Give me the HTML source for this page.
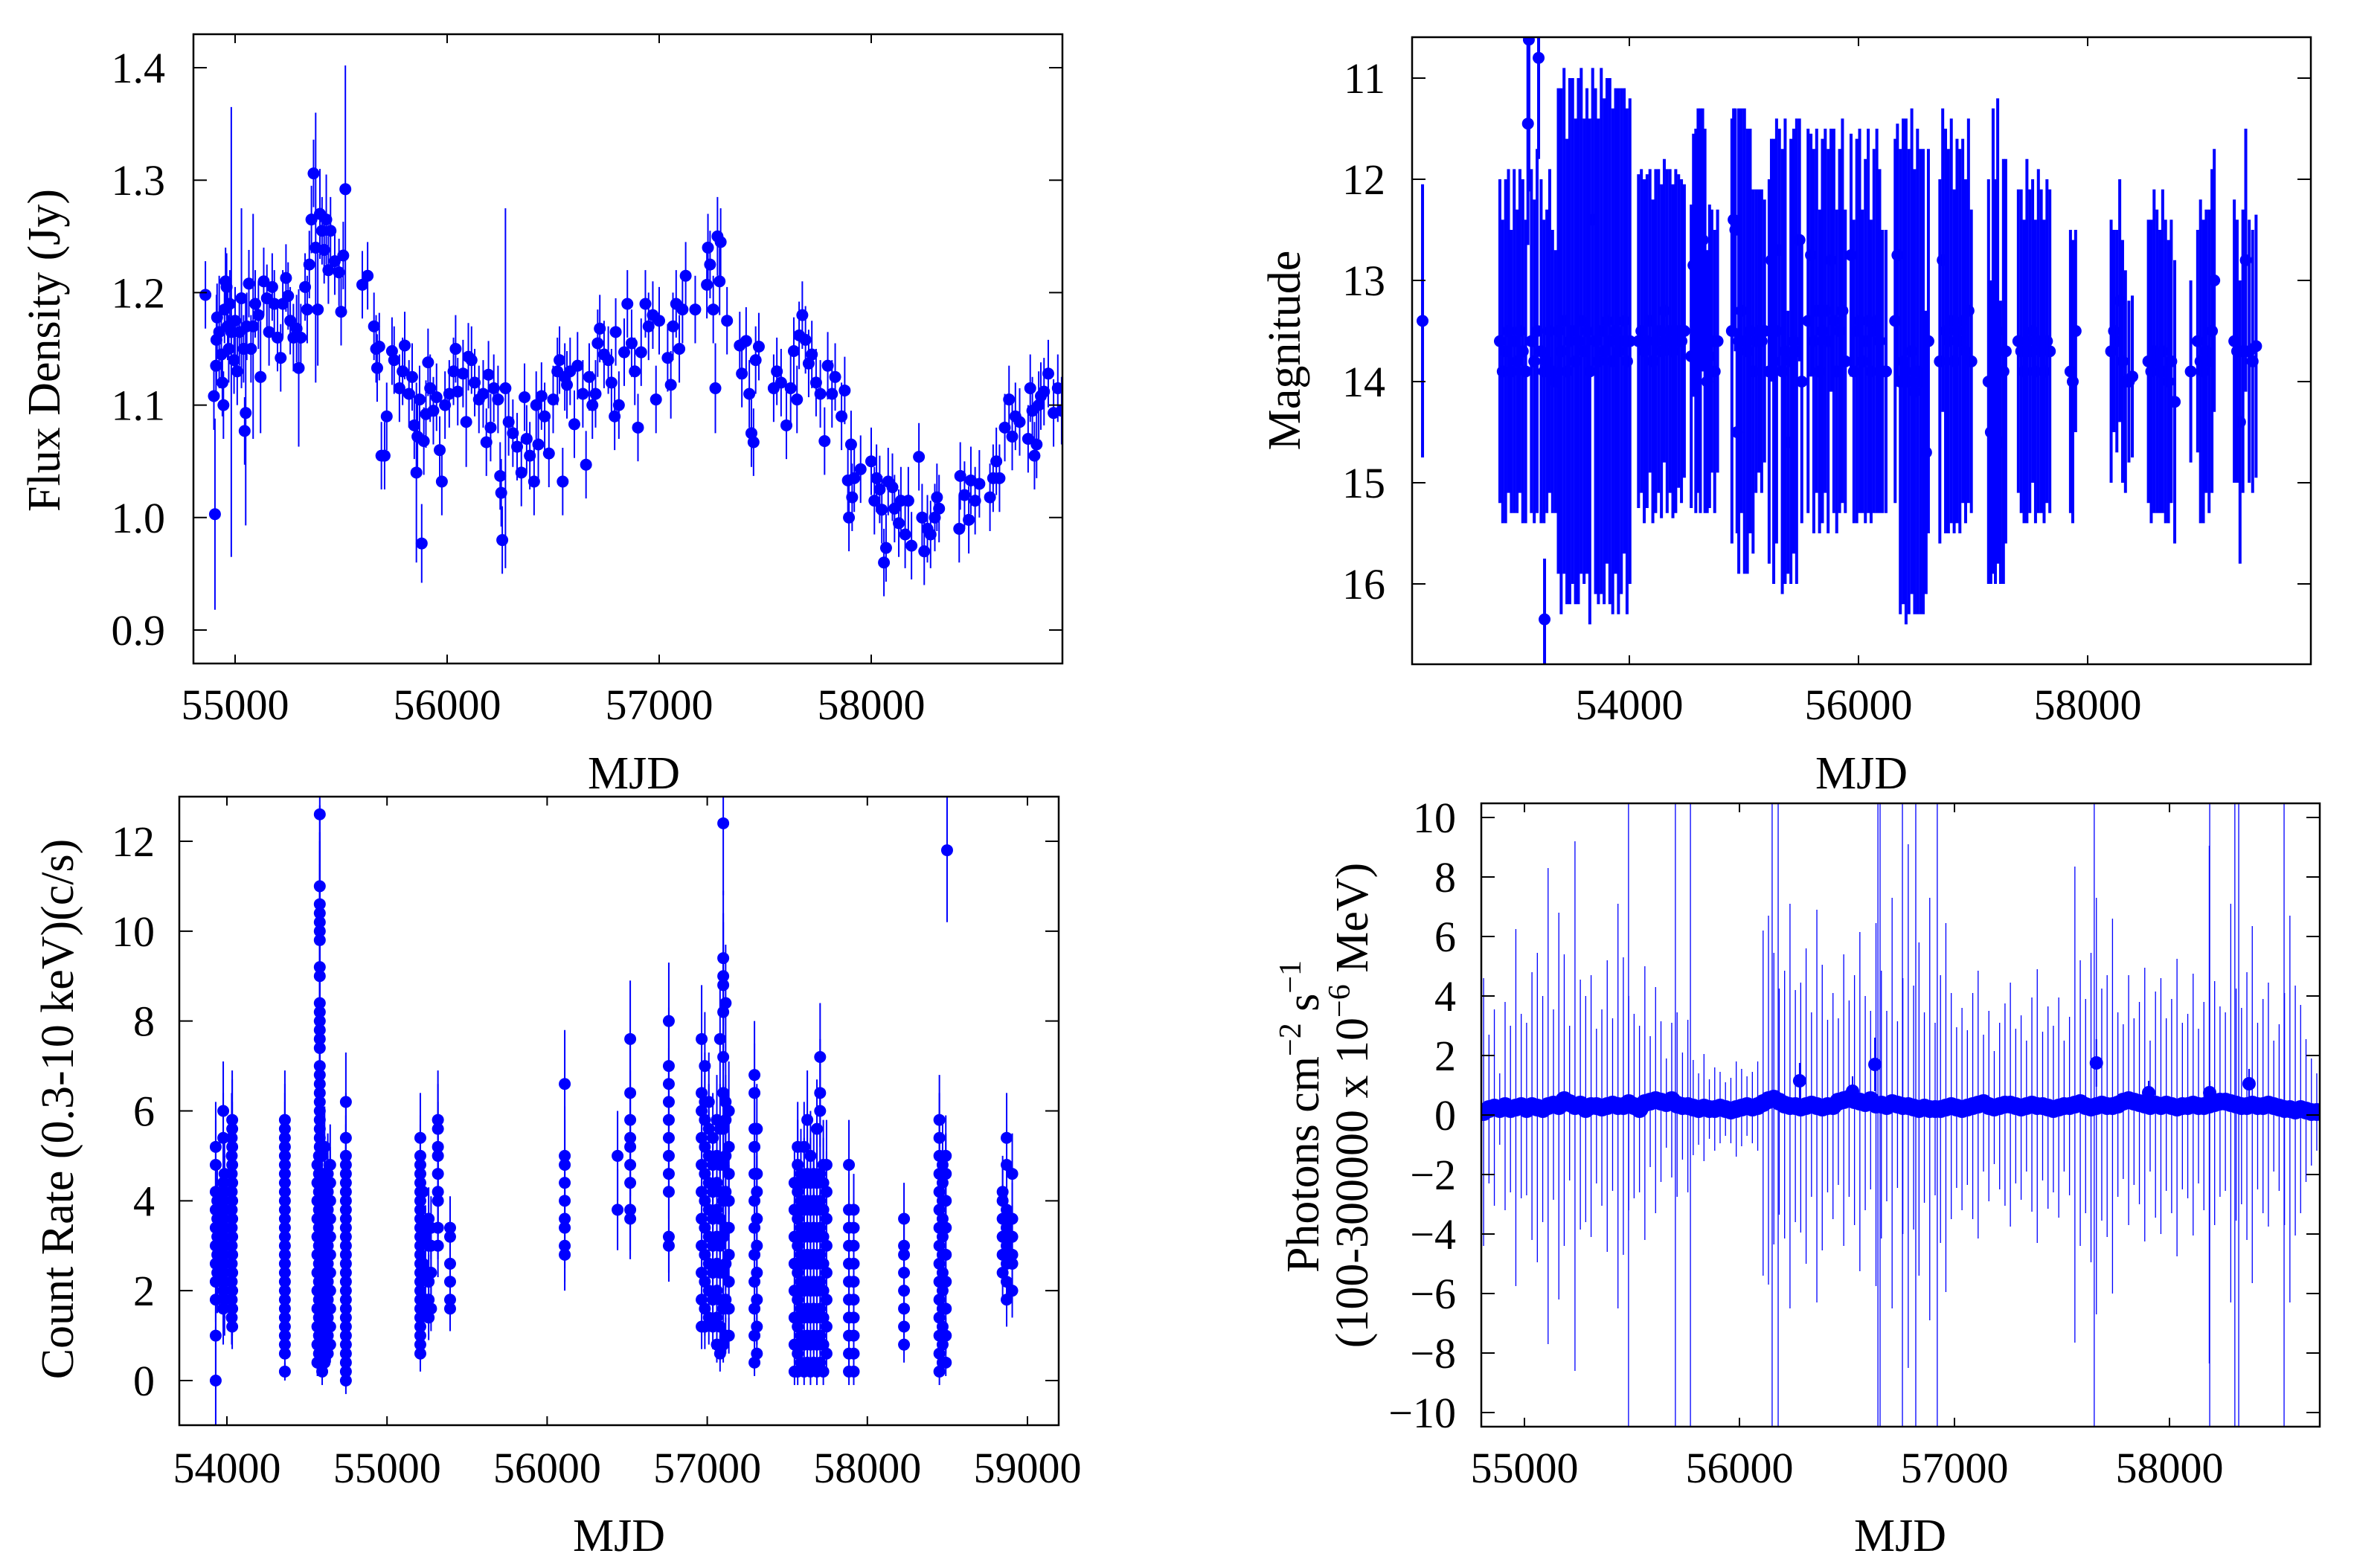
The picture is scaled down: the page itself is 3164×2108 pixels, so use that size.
<!DOCTYPE html>
<html><head><meta charset="utf-8"><style>
html,body{margin:0;padding:0;background:#fff;}
svg{display:block;font-family:"Liberation Serif",serif;}
</style></head><body>
<svg id="fig" width="3164" height="2108" viewBox="0 0 3164 2108" xmlns="http://www.w3.org/2000/svg">
<rect x="0" y="0" width="3164" height="2108" fill="#fff"/>
</svg>
<script>
// ---------- Panel 1: radio flux density [MJD, Jy, err] ----------
const radioData = [[54860,1.198,0.03],[54900,1.108,0.03],[54905,1.003,0.085],[54910,1.135,0.03],[54912,1.158,0.04],[54915,1.178,0.03],[54925,1.165,0.05],[54935,1.145,0.03],[54940,1.12,0.03],[54945,1.10,0.03],[54950,1.185,0.03],[54955,1.21,0.03],[54960,1.205,0.03],[54965,1.17,0.03],[54970,1.15,0.03],[54975,1.19,0.03],[54982,1.165,0.2],[54995,1.14,0.03],[55000,1.175,0.03],[55010,1.13,0.03],[55020,1.165,0.03],[55030,1.195,0.08],[55040,1.15,0.03],[55045,1.077,0.03],[55050,1.093,0.1],[55055,1.17,0.03],[55065,1.208,0.03],[55075,1.15,0.03],[55085,1.17,0.1],[55095,1.19,0.03],[55110,1.18,0.03],[55120,1.125,0.05],[55135,1.21,0.03],[55150,1.195,0.03],[55160,1.165,0.03],[55175,1.205,0.03],[55185,1.19,0.03],[55200,1.16,0.03],[55215,1.142,0.03],[55225,1.19,0.03],[55240,1.213,0.03],[55250,1.197,0.03],[55260,1.175,0.03],[55275,1.16,0.03],[55290,1.168,0.03],[55300,1.133,0.07],[55310,1.16,0.03],[55330,1.205,0.03],[55340,1.185,0.03],[55350,1.225,0.03],[55360,1.265,0.03],[55370,1.306,0.03],[55380,1.24,0.12],[55390,1.185,0.05],[55400,1.27,0.04],[55410,1.255,0.03],[55420,1.238,0.03],[55430,1.265,0.04],[55440,1.22,0.03],[55450,1.255,0.03],[55470,1.228,0.03],[55490,1.218,0.03],[55500,1.183,0.03],[55510,1.233,0.03],[55520,1.292,0.11],[55600,1.207,0.03],[55625,1.215,0.03],[55655,1.17,0.03],[55665,1.15,0.03],[55670,1.133,0.03],[55680,1.152,0.03],[55690,1.055,0.03],[55705,1.055,0.03],[55715,1.09,0.03],[55740,1.148,0.03],[55750,1.14,0.03],[55775,1.115,0.03],[55790,1.13,0.03],[55800,1.153,0.03],[55820,1.11,0.03],[55835,1.125,0.03],[55845,1.082,0.03],[55855,1.04,0.08],[55860,1.072,0.03],[55870,1.105,0.03],[55880,0.977,0.035],[55890,1.068,0.03],[55900,1.092,0.03],[55910,1.138,0.03],[55920,1.115,0.03],[55935,1.095,0.03],[55950,1.107,0.03],[55965,1.06,0.03],[55975,1.032,0.03],[55990,1.10,0.03],[56010,1.11,0.03],[56030,1.13,0.03],[56040,1.15,0.03],[56050,1.112,0.03],[56075,1.128,0.03],[56090,1.085,0.04],[56100,1.143,0.03],[56115,1.14,0.03],[56130,1.12,0.03],[56150,1.105,0.03],[56170,1.11,0.03],[56185,1.067,0.03],[56195,1.127,0.03],[56205,1.08,0.03],[56220,1.115,0.03],[56240,1.105,0.03],[56250,1.037,0.03],[56255,1.022,0.03],[56260,0.98,0.03],[56275,1.115,0.16],[56290,1.085,0.03],[56310,1.075,0.03],[56330,1.063,0.03],[56350,1.04,0.03],[56365,1.107,0.03],[56375,1.07,0.03],[56390,1.055,0.03],[56410,1.032,0.03],[56420,1.10,0.03],[56430,1.065,0.03],[56445,1.108,0.03],[56460,1.09,0.03],[56480,1.057,0.03],[56500,1.105,0.03],[56520,1.13,0.03],[56530,1.14,0.03],[56545,1.032,0.03],[56555,1.125,0.03],[56565,1.118,0.03],[56580,1.13,0.03],[56600,1.083,0.03],[56615,1.135,0.03],[56640,1.11,0.03],[56655,1.047,0.03],[56670,1.125,0.03],[56685,1.1,0.03],[56700,1.11,0.03],[56710,1.155,0.03],[56720,1.168,0.03],[56740,1.145,0.03],[56760,1.14,0.03],[56775,1.12,0.03],[56790,1.09,0.03],[56795,1.165,0.03],[56810,1.1,0.03],[56835,1.147,0.03],[56850,1.19,0.03],[56870,1.155,0.03],[56885,1.13,0.03],[56900,1.08,0.03],[56915,1.147,0.03],[56935,1.19,0.03],[56950,1.17,0.03],[56970,1.18,0.03],[56985,1.105,0.03],[57000,1.175,0.03],[57040,1.142,0.03],[57055,1.118,0.03],[57065,1.17,0.03],[57080,1.19,0.03],[57095,1.15,0.03],[57110,1.185,0.03],[57125,1.215,0.03],[57170,1.185,0.03],[57225,1.207,0.03],[57230,1.24,0.03],[57240,1.225,0.03],[57255,1.185,0.03],[57265,1.115,0.04],[57275,1.25,0.035],[57285,1.21,0.03],[57290,1.245,0.03],[57320,1.175,0.03],[57380,1.153,0.03],[57390,1.128,0.03],[57410,1.157,0.03],[57425,1.11,0.03],[57435,1.075,0.03],[57445,1.067,0.03],[57455,1.14,0.03],[57470,1.152,0.03],[57540,1.115,0.03],[57555,1.13,0.03],[57575,1.12,0.03],[57600,1.082,0.03],[57620,1.115,0.03],[57635,1.148,0.03],[57650,1.105,0.03],[57660,1.162,0.03],[57675,1.18,0.03],[57690,1.158,0.03],[57705,1.137,0.03],[57720,1.145,0.03],[57740,1.12,0.03],[57760,1.11,0.03],[57780,1.068,0.03],[57795,1.135,0.03],[57815,1.11,0.03],[57830,1.125,0.03],[57860,1.09,0.03],[57875,1.113,0.03],[57890,1.033,0.03],[57895,1.0,0.03],[57905,1.065,0.03],[57910,1.018,0.03],[57920,1.035,0.03],[57950,1.043,0.03],[58000,1.05,0.03],[58015,1.015,0.03],[58025,1.035,0.03],[58040,1.025,0.03],[58050,1.007,0.03],[58060,0.96,0.03],[58070,0.973,0.03],[58080,1.032,0.03],[58100,1.027,0.03],[58110,1.008,0.03],[58130,0.995,0.03],[58140,1.015,0.03],[58160,0.985,0.03],[58175,1.015,0.03],[58190,0.975,0.03],[58225,1.054,0.03],[58240,1.0,0.03],[58250,0.97,0.03],[58265,0.99,0.03],[58280,0.985,0.03],[58300,1.0,0.03],[58310,1.018,0.03],[58320,1.008,0.03],[58415,0.99,0.03],[58420,1.037,0.03],[58440,1.02,0.03],[58460,0.998,0.03],[58470,1.033,0.03],[58490,1.015,0.03],[58510,1.03,0.03],[58560,1.018,0.03],[58575,1.035,0.03],[58590,1.05,0.03],[58605,1.035,0.03],[58630,1.08,0.03],[58650,1.105,0.03],[58665,1.072,0.03],[58680,1.09,0.03],[58700,1.085,0.03],[58740,1.07,0.03],[58750,1.115,0.03],[58760,1.095,0.03],[58770,1.055,0.03],[58780,1.065,0.03],[58790,1.1,0.03],[58800,1.108,0.03],[58815,1.112,0.03],[58835,1.128,0.03],[58860,1.093,0.03],[58880,1.115,0.03],[58898,1.095,0.03]];
const radioYTicks = [0.9,1.0,1.1,1.2,1.3,1.4];
const radioYLabels = ["0.9","1.0","1.1","1.2","1.3","1.4"];
const radioXTicks = [55000,56000,57000,58000];

// ---------- Panel 2: optical magnitude [MJD, mag, err] ----------
const magData = [[52195,13.4,1.35],
[52870,13.6,1.6],[52895,13.9,1.5],[52920,13.7,1.7],[52945,13.5,1.6],[52970,13.9,1.4],[52995,13.6,1.7],[53020,13.8,1.5],[53045,13.5,1.6],[53070,13.7,1.7],[53095,13.9,1.5],[53115,11.45,1.2],[53123,10.62,1.5],[53145,13.6,1.7],[53170,13.8,1.6],[53195,13.5,1.8],[53208,10.8,1.0],[53230,13.7,1.7],[53255,13.9,1.5],[53260,16.35,0.6],[53280,13.8,1.5],[53305,13.5,1.6],[53330,13.9,1.4],[53355,14.0,1.3],
[53380,13.5,2.4],[53405,13.7,2.6],[53430,13.4,2.5],[53455,13.9,2.3],[53480,13.6,2.6],[53505,13.5,2.5],[53530,13.8,2.4],[53555,13.6,2.6],[53580,13.4,2.5],[53605,13.7,2.3],[53630,13.5,2.4],[53655,13.9,2.5],[53680,12.4,1.5],[53705,13.6,2.5],[53730,13.8,2.4],[53755,13.5,2.6],[53780,13.7,2.5],[53805,13.4,2.4],[53830,13.6,2.6],[53855,13.8,2.5],[53880,13.5,2.4],[53905,13.7,2.6],[53930,13.6,2.5],[53955,13.4,2.3],[53980,13.8,2.5],[54005,13.6,2.4],
[54080,13.6,1.65],[54105,13.5,1.6],[54130,13.7,1.7],[54155,13.6,1.65],[54180,13.4,1.5],[54205,13.8,1.6],[54230,13.6,1.7],[54255,13.5,1.6],[54280,13.7,1.65],[54305,13.3,1.5],[54330,13.6,1.7],[54355,13.5,1.6],[54380,13.7,1.65],[54405,13.6,1.7],[54430,13.5,1.55],[54455,13.6,1.6],[54480,13.5,1.45],
[54540,13.75,1.5],[54560,12.85,1.3],[54580,13.4,1.9],[54600,13.2,1.9],[54620,13.3,2.0],[54640,12.6,1.3],[54660,13.4,1.9],[54680,14.0,1.3],[54700,13.75,1.5],[54720,13.6,1.3],[54745,13.9,1.4],[54770,13.6,1.3],
[54895,13.5,2.1],[54910,12.4,1.1],[54925,12.5,1.2],[54940,14.5,1.0],[54955,13.6,2.3],[54980,13.3,2.0],[55005,13.6,2.3],[55030,13.7,2.2],[55055,13.5,2.0],[55080,13.9,1.8],[55105,13.6,1.5],[55130,13.5,1.4],[55155,13.6,1.5],[55180,13.5,1.3],
[55220,13.9,1.9],[55240,12.8,1.2],[55260,13.8,2.2],[55285,13.5,2.1],[55310,12.7,1.2],[55335,13.9,2.2],[55360,13.7,2.3],[55385,14.6,1.3],[55410,13.8,2.2],[55435,13.6,2.1],[55460,13.7,2.3],[55485,12.6,1.2],[55505,14.0,1.4],
[55560,13.4,1.9],[55585,12.75,1.2],[55610,13.6,1.9],[55635,13.3,1.8],[55660,13.9,1.6],[55685,13.5,1.9],[55710,13.3,1.8],[55735,13.6,1.9],[55760,12.8,1.3],[55785,13.4,1.9],[55810,13.9,1.6],[55835,13.5,1.8],[55860,13.3,1.9],[55885,13.8,1.5],
[55935,12.75,1.2],[55960,13.9,1.5],[55985,13.5,1.9],[56010,13.4,1.9],[56035,13.8,1.5],[56060,13.6,1.8],[56085,13.4,1.9],[56110,13.9,1.5],[56135,13.5,1.8],[56160,13.4,1.9],[56185,13.6,1.7],[56210,13.9,1.4],[56240,13.9,1.4],
[56320,13.4,1.8],[56340,12.75,1.3],[56365,14.0,2.3],[56390,13.8,2.4],[56415,13.9,2.5],[56440,14.0,2.3],[56465,13.7,2.4],[56490,14.1,2.2],[56515,13.9,2.4],[56540,14.0,2.3],[56565,14.0,2.3],[56590,14.7,1.4],[56610,13.6,1.9],
[56710,13.8,1.8],[56735,12.8,1.5],[56760,13.5,2.0],[56785,13.6,1.9],[56810,13.4,2.0],[56835,13.8,1.7],[56860,13.5,1.9],[56885,13.6,1.9],[56910,13.4,1.8],[56935,13.7,1.7],[56960,13.3,1.9],[56985,13.8,1.5],
[57135,14.0,2.0],[57155,14.5,1.5],[57175,13.6,2.3],[57195,14.0,2.0],[57215,13.5,2.3],[57240,14.6,1.4],[57265,13.9,2.1],[57285,13.7,1.9],
[57395,13.6,1.5],[57420,13.7,1.6],[57445,13.9,1.5],[57470,13.6,1.8],[57495,13.7,1.6],[57520,13.5,1.5],[57545,13.9,1.5],[57570,13.6,1.7],[57595,13.7,1.6],[57620,13.9,1.5],[57645,13.6,1.6],[57670,13.7,1.6],
[57850,13.9,1.4],[57870,14.0,1.4],[57895,13.5,1.0],
[58205,13.7,1.3],[58230,13.5,1.0],[58255,13.6,1.1],[58280,13.2,1.2],[58305,13.8,1.2],[58330,14.0,1.1],[58360,14.0,0.8],[58390,13.95,0.8],
[58530,13.8,1.4],[58555,13.9,1.5],[58580,13.7,1.6],[58605,13.8,1.5],[58630,13.9,1.4],[58655,13.7,1.6],[58680,13.9,1.5],[58705,14.0,1.4],[58730,13.8,1.4],[58760,14.2,1.4],
[58900,13.9,0.9],[58960,13.6,1.1],[58985,13.8,1.6],[59010,13.9,1.5],[59035,13.7,1.4],[59060,13.8,1.5],[59085,13.5,1.6],[59105,13.0,1.3],
[59280,13.6,1.4],[59305,13.7,1.3],[59330,14.4,1.4],[59355,13.7,1.4],[59380,12.8,1.3],[59410,13.7,1.3],[59440,13.8,1.3],[59470,13.65,1.3]];
const magYTicks = [11,12,13,14,15,16];
const magXTicks = [54000,56000,58000];

// ---------- Panel 3: X-ray count rate [MJD, rate, err] ----------
const rateData = [
[53930,0,1.2],[53930,1.0,0.9],[53930,1.8,0.9],[53930,2.2,0.9],[53930,2.6,0.9],[53930,3.0,0.9],[53930,3.4,0.9],[53930,3.8,0.9],[53930,4.2,0.9],[53930,4.8,1.0],[53930,5.2,1.0],[53940,2.4,0.9],[53940,2.8,0.9],[53940,3.2,0.9],[53940,3.6,0.9],[53940,4.0,0.9],
[53977,1.6,0.8],[53977,2.0,0.8],[53977,2.4,0.8],[53977,2.8,0.8],[53977,3.2,0.8],[53977,3.6,0.8],[53977,4.0,0.8],[53977,4.4,0.9],[53977,5.4,1.0],[53977,6.0,1.1],[53985,1.8,0.8],[53985,2.2,0.8],[53985,2.6,0.8],[53985,3.0,0.8],[53985,3.4,0.8],[53985,3.8,0.8],[53985,4.2,0.8],[53985,4.6,0.8],
[54033,1.2,0.5],[54033,1.6,0.6],[54033,2.0,0.6],[54033,2.4,0.7],[54033,2.8,0.7],[54033,3.2,0.8],[54033,3.6,0.8],[54033,4.0,0.9],[54033,4.4,0.9],[54033,4.8,1.0],[54033,5.2,1.0],[54033,5.6,1.1],[54033,5.8,1.1],[54030,1.4,0.6],[54030,1.8,0.6],[54030,2.2,0.7],[54030,2.6,0.7],[54030,3.0,0.8],[54030,3.4,0.8],[54030,3.8,0.8],[54030,4.2,0.9],[54030,4.6,0.9],[54030,5.0,1.0],[54030,5.4,1.0],
[54362,0.2,0.2],[54362,0.6,0.3],[54362,1.0,0.4],[54362,1.4,0.4],[54362,1.8,0.5],[54362,2.2,0.5],[54362,2.6,0.6],[54362,3.0,0.6],[54362,3.4,0.7],[54362,3.8,0.7],[54362,4.2,0.8],[54362,4.6,0.8],[54362,5.0,0.9],[54362,5.4,1.0],[54362,5.8,1.1],[54362,0.8,0.3],[54362,1.2,0.4],[54362,1.6,0.4],[54362,2.0,0.5],[54362,2.4,0.6],[54362,2.8,0.6],[54362,3.2,0.7],[54362,3.6,0.7],[54362,4.0,0.8],[54362,4.4,0.8],[54362,4.8,0.9],[54362,5.2,1.0],[54362,5.6,1.0],
[54580,12.6,2.0],[54580,11.0,1.8],[54580,10.6,1.6],[54580,10.4,1.6],[54580,10.2,1.6],[54580,10.0,1.5],[54580,9.8,1.5],[54580,9.2,1.4],[54580,9.0,1.4],[54580,8.4,1.3],[54580,8.2,1.3],[54580,8.0,1.3],[54580,7.8,1.2],[54580,7.6,1.2],[54580,7.4,1.2],[54580,7.0,1.1],[54580,6.8,1.1],[54580,6.6,1.1],[54580,6.4,1.0],[54580,6.2,1.0],[54580,6.0,1.0],[54580,5.8,1.0],[54580,5.6,1.0],[54580,5.4,0.9],[54580,5.2,0.9],[54580,5.0,0.9],
[54565,0.4,0.3],[54565,0.8,0.4],[54565,1.2,0.4],[54565,1.6,0.5],[54565,2.0,0.5],[54565,2.4,0.6],[54565,2.8,0.6],[54565,3.2,0.7],[54565,3.6,0.7],[54565,4.0,0.8],[54565,4.4,0.8],[54565,4.8,0.9],
[54575,0.6,0.3],[54575,1.0,0.4],[54575,1.4,0.4],[54575,1.8,0.5],[54575,2.2,0.5],[54575,2.6,0.6],[54575,3.0,0.6],[54575,3.4,0.7],[54575,3.8,0.7],[54575,4.2,0.8],[54575,4.6,0.8],[54575,5.0,0.9],
[54595,0.2,0.3],[54595,0.6,0.3],[54595,1.0,0.4],[54595,1.4,0.4],[54595,1.8,0.5],[54595,2.2,0.5],[54595,2.6,0.6],[54595,3.0,0.6],[54595,3.4,0.7],[54595,3.8,0.7],[54595,4.2,0.8],[54595,4.6,0.8],[54595,5.0,0.9],
[54610,0.4,0.3],[54610,0.8,0.4],[54610,1.2,0.4],[54610,1.6,0.5],[54610,2.0,0.5],[54610,2.4,0.6],[54610,2.8,0.6],[54610,3.2,0.7],[54610,3.6,0.7],[54610,4.0,0.8],[54610,4.4,0.8],[54610,5.2,0.9],
[54630,0.6,0.3],[54630,1.0,0.4],[54630,1.4,0.4],[54630,1.8,0.5],[54630,2.2,0.5],[54630,2.6,0.6],[54630,3.0,0.6],[54630,3.4,0.7],[54630,3.8,0.7],[54630,4.2,0.8],[54630,4.6,0.9],
[54645,0.8,0.4],[54645,1.2,0.4],[54645,1.6,0.5],[54645,2.0,0.5],[54645,2.4,0.6],[54645,2.8,0.6],[54645,3.2,0.7],[54645,3.6,0.7],[54645,4.0,0.8],[54645,4.4,0.8],[54645,4.8,0.9],
[54743,0,0.3],[54743,0.4,0.3],[54743,0.8,0.4],[54743,1.2,0.4],[54743,1.6,0.5],[54743,2.0,0.5],[54743,2.4,0.6],[54743,2.8,0.6],[54743,3.2,0.7],[54743,3.6,0.7],[54743,4.0,0.8],[54743,4.4,0.8],[54743,4.8,0.9],[54743,5.0,0.9],[54743,5.4,1.0],[54743,6.2,1.1],[54743,0.2,0.3],[54743,0.6,0.3],[54743,1.0,0.4],[54743,1.4,0.4],[54743,1.8,0.5],[54743,2.2,0.5],[54743,2.6,0.6],[54743,3.0,0.6],[54743,3.4,0.7],[54743,3.8,0.7],[54743,4.2,0.8],[54743,4.6,0.8],
[55208,0.6,0.4],[55208,1.0,0.4],[55208,1.4,0.5],[55208,1.8,0.5],[55208,2.2,0.6],[55208,2.6,0.6],[55208,3.0,0.7],[55208,3.4,0.7],[55208,3.8,0.8],[55208,4.2,0.8],[55208,4.6,0.9],[55208,5.0,0.9],[55208,5.4,1.0],[55208,0.8,0.4],[55208,1.2,0.4],[55208,1.6,0.5],[55208,2.0,0.5],[55208,2.4,0.6],[55208,2.8,0.6],[55208,3.2,0.7],[55208,3.6,0.7],[55208,4.0,0.8],[55208,4.4,0.8],[55208,4.8,0.9],
[55225,1.6,0.5],[55225,2.6,0.6],[55225,3.4,0.7],[55225,4.2,0.8],[55240,1.8,0.5],[55240,2.4,0.6],[55240,3.2,0.7],
[55260,1.4,0.5],[55260,1.8,0.5],[55260,2.2,0.6],[55260,3.0,0.7],[55260,3.6,0.7],[55275,1.6,0.5],[55275,2.4,0.6],[55275,3.0,0.7],[55275,3.4,0.7],
[55318,3.0,0.7],[55318,3.4,0.7],[55318,4.0,0.8],[55318,4.2,0.8],[55318,4.6,0.9],[55318,5.0,0.9],[55318,5.2,1.0],[55318,5.6,1.0],[55318,5.8,1.1],
[55394,1.6,0.5],[55394,1.8,0.5],[55394,2.2,0.6],[55394,2.6,0.6],[55394,3.2,0.7],[55394,3.4,0.7],
[56110,2.8,0.8],[56110,3.0,0.8],[56110,3.4,0.9],[56110,3.6,0.9],[56110,4.0,1.0],[56110,4.4,1.0],[56110,4.8,1.0],[56110,5.0,1.1],[56110,6.6,1.2],
[56440,3.8,0.9],[56440,5.0,1.0],
[56519,3.6,0.9],[56519,3.8,0.9],[56519,4.4,1.0],[56519,4.8,1.0],[56519,5.2,1.1],[56519,5.4,1.1],[56519,5.8,1.1],[56519,6.4,1.2],[56519,7.6,1.3],
[56760,3.0,0.8],[56760,3.2,0.8],[56760,4.2,0.9],[56760,4.6,1.0],[56760,5.0,1.0],[56760,5.4,1.1],[56760,5.8,1.1],[56760,6.2,1.2],[56760,6.6,1.2],[56760,7.0,1.3],[56760,8.0,1.3],
[56965,1.2,0.5],[56965,1.8,0.6],[56965,2.4,0.7],[56965,3.0,0.7],[56965,3.6,0.8],[56965,4.2,0.9],[56965,4.8,1.0],[56965,5.4,1.0],[56965,6.0,1.1],[56965,6.4,1.1],[56965,7.6,1.2],
[56985,1.2,0.5],[56985,1.6,0.6],[56985,2.2,0.6],[56985,2.8,0.7],[56985,3.4,0.8],[56985,4.0,0.9],[56985,4.6,0.9],[56985,5.2,1.0],[56985,5.8,1.0],[56985,6.2,1.1],[56985,7.0,1.2],
[57010,1.4,0.6],[57010,2.0,0.6],[57010,2.6,0.7],[57010,3.2,0.8],[57010,3.8,0.8],[57010,4.4,0.9],[57010,5.0,1.0],[57010,5.6,1.0],[57010,6.2,1.1],
[57035,1.2,0.5],[57035,1.8,0.6],[57035,2.4,0.7],[57035,3.0,0.7],[57035,3.6,0.8],[57035,4.2,0.9],[57035,4.8,1.0],[57035,5.4,1.0],
[57060,0.8,0.4],[57060,1.4,0.5],[57060,2.0,0.6],[57060,2.6,0.7],[57060,3.2,0.8],[57060,3.8,0.8],[57060,4.4,0.9],[57060,5.0,1.0],[57060,5.8,1.0],
[57080,0.6,0.4],[57080,1.2,0.5],[57080,1.8,0.6],[57080,2.4,0.7],[57080,3.0,0.7],[57080,3.6,0.8],[57080,4.2,0.9],[57080,4.8,1.0],[57080,5.6,1.0],[57080,7.6,1.2],
[57100,0.8,0.4],[57100,1.6,0.5],[57100,2.4,0.6],[57100,3.2,0.7],[57100,4.0,0.8],[57100,4.8,0.9],[57100,5.6,1.0],[57100,6.4,1.1],[57100,7.2,1.2],[57100,8.2,1.3],[57100,8.8,1.4],[57100,9.0,1.4],[57100,9.4,1.5],[57100,12.4,1.6],
[57115,1.0,0.4],[57115,1.8,0.5],[57115,2.6,0.6],[57115,3.4,0.7],[57115,4.2,0.8],[57115,5.0,0.9],[57115,5.8,1.0],[57115,6.2,1.1],[57115,8.4,1.3],
[57135,1.0,0.4],[57135,1.6,0.5],[57135,2.2,0.6],[57135,2.8,0.7],[57135,3.4,0.7],[57135,4.0,0.8],[57135,4.6,0.9],[57135,5.2,1.0],[57135,6.0,1.1],
[57295,0.4,0.3],[57295,1.0,0.4],[57295,1.6,0.5],[57295,2.2,0.6],[57295,2.8,0.6],[57295,3.4,0.7],[57295,4.0,0.8],[57295,4.6,0.9],[57295,5.2,1.0],[57295,5.6,1.0],[57295,6.4,1.1],[57295,6.8,1.2],
[57310,0.6,0.3],[57310,1.2,0.4],[57310,1.8,0.5],[57310,2.4,0.6],[57310,3.0,0.7],[57310,3.6,0.7],[57310,4.2,0.8],[57310,4.6,0.9],[57310,5.6,1.0],
[57545,0.2,0.3],[57545,0.8,0.4],[57545,1.4,0.5],[57545,2.0,0.6],[57545,2.6,0.7],[57545,3.2,0.8],[57545,3.8,0.9],[57545,4.4,0.9],
[57565,0.2,0.3],[57565,0.6,0.4],[57565,1.2,0.5],[57565,1.8,0.6],[57565,2.4,0.7],[57565,3.0,0.8],[57565,3.6,0.9],[57565,4.2,0.9],[57565,4.8,1.0],[57565,5.2,1.0],
[57585,0.4,0.3],[57585,1.0,0.4],[57585,1.6,0.5],[57585,2.2,0.6],[57585,2.8,0.7],[57585,3.4,0.8],[57585,4.0,0.9],[57585,4.6,1.0],
[57605,0.2,0.3],[57605,0.8,0.4],[57605,1.4,0.5],[57605,2.0,0.6],[57605,2.6,0.7],[57605,3.2,0.8],[57605,3.8,0.9],[57605,4.4,1.0],[57605,5.2,1.0],
[57625,0.4,0.3],[57625,1.0,0.4],[57625,1.6,0.5],[57625,2.2,0.6],[57625,2.8,0.7],[57625,3.4,0.8],[57625,4.0,0.9],[57625,4.6,1.0],[57625,5.8,1.1],
[57645,0.2,0.3],[57645,0.8,0.4],[57645,1.4,0.5],[57645,2.0,0.6],[57645,2.6,0.7],[57645,3.2,0.8],[57645,3.8,0.9],[57645,4.4,1.0],[57645,5.0,1.0],
[57665,0.4,0.3],[57665,1.0,0.4],[57665,1.6,0.5],[57665,2.2,0.6],[57665,2.8,0.7],[57665,3.4,0.8],[57665,4.0,0.9],[57665,4.6,1.0],
[57685,0.2,0.3],[57685,0.8,0.4],[57685,1.4,0.5],[57685,2.0,0.6],[57685,2.6,0.7],[57685,3.2,0.8],[57685,3.8,0.9],[57685,4.4,1.0],[57685,5.6,1.1],
[57705,0.4,0.3],[57705,1.0,0.4],[57705,1.6,0.5],[57705,2.2,0.6],[57705,2.8,0.7],[57705,3.4,0.8],[57705,4.0,0.9],[57705,4.6,1.0],[57705,6.0,1.1],[57705,6.4,1.2],[57705,7.2,1.2],
[57725,0.2,0.3],[57725,0.8,0.4],[57725,1.4,0.5],[57725,2.0,0.6],[57725,2.6,0.7],[57725,3.2,0.8],[57725,3.8,0.9],[57725,4.4,1.0],[57725,4.8,1.0],
[57745,0.6,0.3],[57745,1.2,0.4],[57745,1.8,0.5],[57745,2.4,0.6],[57745,3.0,0.7],[57745,3.6,0.8],[57745,4.2,0.9],[57745,4.8,1.0],
[57885,0.2,0.3],[57885,0.6,0.3],[57885,1.0,0.4],[57885,1.4,0.5],[57885,1.8,0.5],[57885,2.2,0.6],[57885,2.6,0.6],[57885,3.0,0.7],[57885,3.4,0.7],[57885,3.8,0.8],[57885,4.8,1.0],
[57915,0.2,0.3],[57915,0.6,0.3],[57915,1.0,0.4],[57915,1.4,0.5],[57915,1.8,0.5],[57915,2.2,0.6],[57915,2.6,0.6],[57915,3.0,0.7],[57915,3.4,0.7],[57915,3.8,0.8],
[58229,0.8,0.4],[58229,1.2,0.5],[58229,1.6,0.5],[58229,2.0,0.6],[58229,2.4,0.6],[58229,2.8,0.7],[58229,3.0,0.7],[58229,3.6,0.8],
[58450,0.2,0.3],[58450,0.6,0.3],[58450,1.0,0.4],[58450,1.4,0.5],[58450,1.8,0.5],[58450,2.2,0.6],[58450,2.6,0.6],[58450,3.0,0.7],[58450,3.4,0.7],[58450,3.8,0.8],[58450,4.2,0.8],[58450,4.6,0.9],[58450,5.0,0.9],[58450,5.4,1.0],[58450,5.8,1.0],
[58470,0.4,0.3],[58470,0.8,0.4],[58470,1.2,0.4],[58470,1.6,0.5],[58470,2.0,0.5],[58470,2.4,0.6],[58470,2.8,0.6],[58470,3.2,0.7],[58470,3.6,0.7],[58470,4.0,0.8],[58470,4.4,0.8],[58470,4.8,0.9],
[58490,0.4,0.3],[58490,1.0,0.4],[58490,1.6,0.5],[58490,2.2,0.6],[58490,2.8,0.6],[58490,3.4,0.7],[58490,4.0,0.8],[58490,4.6,0.9],[58490,5.0,0.9],
[58498,11.8,1.6],
[58845,2.4,0.6],[58845,2.8,0.6],[58845,3.2,0.7],[58845,3.6,0.7],[58845,4.0,0.8],[58845,4.2,0.8],
[58870,1.8,0.6],[58870,2.2,0.6],[58870,2.6,0.7],[58870,3.0,0.7],[58870,3.4,0.8],[58870,3.8,0.8],[58870,4.8,0.9],[58870,5.4,1.0],
[58905,2.0,0.6],[58905,2.6,0.7],[58905,2.8,0.7],[58905,3.2,0.7],[58905,3.6,0.8],[58905,4.6,0.9]];
const rateYTicks = [0,2,4,6,8,10,12];
const rateXTicks = [54000,55000,56000,57000,58000,59000];

// ---------- Panel 4: gamma-ray flux ----------
const gammaMjd = [54810,54835,54860,54885,54910,54935,54960,54985,55010,55035,55060,55085,55110,55135,55160,55185,55210,55235,55260,55285,55310,55335,55360,55385,55410,55435,55460,55485,55510,55535,55560,55585,55610,55635,55660,55685,55710,55735,55760,55785,55810,55835,55860,55885,55910,55935,55960,55985,56010,56035,56060,56085,56110,56135,56160,56185,56210,56235,56260,56285,56310,56335,56360,56385,56410,56435,56460,56485,56510,56535,56560,56585,56610,56635,56660,56685,56710,56735,56760,56785,56810,56835,56860,56885,56910,56935,56960,56985,57010,57035,57060,57085,57110,57135,57160,57185,57210,57235,57260,57285,57310,57335,57360,57385,57410,57435,57460,57485,57510,57535,57560,57585,57610,57635,57660,57685,57710,57735,57760,57785,57810,57835,57860,57885,57910,57935,57960,57985,58010,58035,58060,58085,58110,58135,58160,58185,58210,58235,58260,58285,58310,58335,58360,58385,58410,58435,58460,58485,58510,58535,58560,58585,58610,58635,58660,58685];
const gammaVal = [0.1,0.2,0.25,0.2,0.3,0.2,0.25,0.3,0.2,0.3,0.25,0.2,0.3,0.35,0.3,0.5,0.4,0.3,0.35,0.2,0.3,0.3,0.25,0.3,0.35,0.3,0.3,0.4,0.3,0.2,0.4,0.45,0.5,0.45,0.4,0.5,0.35,0.3,0.3,0.25,0.2,0.25,0.2,0.2,0.25,0.2,0.15,0.2,0.25,0.3,0.25,0.3,0.4,0.5,0.55,0.45,0.35,0.3,0.3,0.25,0.3,0.35,0.3,0.25,0.3,0.3,0.45,0.5,0.55,0.5,0.45,0.4,0.5,0.35,0.35,0.3,0.4,0.35,0.3,0.3,0.25,0.2,0.25,0.2,0.2,0.2,0.25,0.3,0.25,0.2,0.25,0.3,0.35,0.4,0.3,0.25,0.3,0.35,0.35,0.3,0.25,0.3,0.35,0.3,0.3,0.25,0.2,0.25,0.3,0.3,0.35,0.4,0.3,0.25,0.3,0.35,0.3,0.3,0.35,0.45,0.5,0.45,0.4,0.35,0.3,0.35,0.3,0.35,0.3,0.25,0.3,0.3,0.35,0.3,0.3,0.35,0.4,0.45,0.45,0.4,0.35,0.3,0.3,0.35,0.3,0.3,0.35,0.3,0.25,0.2,0.2,0.15,0.2,0.15,0.1,0.1];
const gammaErr = [4.5,2.5,3.3,1.2,3.5,2.8,6.0,3.1,2.9,4.5,5.2,3.8,8.0,3.2,6.5,4.9,2.6,8.9,4.2,3.8,4.4,2.6,3.3,4.9,2.9,6.8,5.0,3.6,3.1,2.8,4.6,2.2,3.8,2.7,1.5,2.6,3.1,1.8,2.9,1.6,1.2,1.8,1.0,1.4,1.2,0.9,1.1,1.6,1.3,1.0,1.2,1.5,5.8,6.2,4.9,3.8,4.5,6.8,3.9,4.2,5.3,3.1,6.6,4.8,2.9,3.8,2.8,4.9,3.3,4.2,5.7,3.6,3.0,6.1,4.5,3.2,6.9,2.8,4.3,8.8,4.1,5.6,3.2,7.1,2.9,4.5,6.2,3.8,2.7,3.4,2.6,3.8,4.5,2.3,3.2,1.9,2.8,3.4,4.1,2.6,3.1,2.2,3.6,4.6,2.5,3.4,2.8,3.7,2.2,3.0,8.0,4.8,3.6,5.2,7.0,3.9,4.4,6.3,3.1,2.6,4.2,2.8,3.4,4.6,2.2,3.8,4.3,2.9,3.6,5.0,2.8,3.1,4.4,2.6,3.5,8.7,4.1,3.2,3.0,6.7,3.9,3.3,4.5,6.0,2.8,3.6,4.1,2.2,2.8,3.9,6.5,4.2,3.5,2.4,1.8,1.3];
const gammaSpikeMjd = [55484,55702,55772,56152,56180,56644,56654,56758,56820,56920,57650,58187,58304,58322,58533];
const gammaSpikeVal = [0.3,0.3,0.2,0.4,0.3,0.5,0.4,0.3,0.3,0.2,0.3,0.4,0.3,0.3,0.2];
const gammaHighMjd = [56280,56526,56630,57660,57903,58187,58370];
const gammaHighVal = [1.15,0.8,1.7,1.75,0.75,0.75,1.05];
const gammaHighErr = [0.6,0.5,0.9,0.8,0.4,0.4,0.5];
const gammaYTicks = [-10,-8,-6,-4,-2,0,2,4,6,8,10];
const gammaYLabels = ["\u221210","\u22128","\u22126","\u22124","\u22122","0","2","4","6","8","10"];
const gammaXTicks = [55000,56000,57000,58000];

// ---------- rendering ----------
const NS = "http://www.w3.org/2000/svg";
const svg = document.getElementById("fig");
const BLUE = "#0000ff";
function mk(tag, attrs, parent) {
  const e = document.createElementNS(NS, tag);
  for (const k in attrs) e.setAttribute(k, attrs[k]);
  (parent || svg).appendChild(e);
  return e;
}
function linScale(d0, d1, r0, r1) { return v => r0 + (v - d0) * (r1 - r0) / (d1 - d0); }

function panel(cfg) {
  const g = mk("g", {});
  
  
  const clipId = cfg.name + "-clip";
  const cp = mk("clipPath", {id: clipId}, g);
  mk("rect", {x: cfg.x0, y: cfg.y0, width: cfg.x1 - cfg.x0, height: cfg.y1 - cfg.y0}, cp);
  const plot = mk("g", {"clip-path": "url(#" + clipId + ")"}, g);
  
  
  const tk = mk("g", {stroke: "#000", "stroke-width": 2}, g);
  
  
  cfg.xTicks.forEach(t => {
    const x = cfg.sx(t);
    mk("line", {x1: x, x2: x, y1: cfg.y1, y2: cfg.y1 - 12}, tk);
    mk("line", {x1: x, x2: x, y1: cfg.y0, y2: cfg.y0 + 12}, tk);
    const lb = mk("text", {x: x, y: cfg.xLabelY, "text-anchor": "middle", "font-size": 58, fill: "#000"}, g);
    
    
    lb.textContent = String(t);
  });
  cfg.yTicks.forEach((t, i) => {
    const y = cfg.sy(t);
    mk("line", {x1: cfg.x0, x2: cfg.x0 + 18, y1: y, y2: y}, tk);
    mk("line", {x1: cfg.x1, x2: cfg.x1 - 18, y1: y, y2: y}, tk);
    const lb = mk("text", {x: cfg.yLabelX, y: y + 20, "text-anchor": "end", "font-size": 58, fill: "#000"}, g);
    
    
    lb.textContent = cfg.yLabels ? cfg.yLabels[i] : String(t);
  });
  const fr = mk("rect", {x: cfg.x0, y: cfg.y0, width: cfg.x1 - cfg.x0, height: cfg.y1 - cfg.y0, fill: "none", stroke: "#000", "stroke-width": 2.5}, g);
  
  
  const xt = mk("text", {x: cfg.xTitleX, y: cfg.xTitleY, "text-anchor": "middle", "font-size": 62, fill: "#000"}, g);
  
  
  xt.textContent = "MJD";
  return plot;
}

function errPoint(plot, x, y, yTop, yBot, r, w) {
  if (w > 0) {
    const l = mk("line", {x1: x, x2: x, y1: yTop, y2: yBot, stroke: BLUE, "stroke-width": w}, plot);
    
    
  }
  if (r > 0) {
    const c = mk("circle", {cx: x, cy: y, r: r, fill: BLUE}, plot);
    
    
  }
}

// Panel 1
{
  const sx = linScale(55000, 58000, 316, 1171);
  const sy = linScale(1.4, 0.9, 91, 847);
  const plot = panel({name: "radio-panel", x0: 260, x1: 1428, y0: 46, y1: 892, sx, sy,
    xTicks: radioXTicks, yTicks: radioYTicks, yLabels: radioYLabels, yLabelX: 222, xLabelY: 967, xTitleX: 852, xTitleY: 1060});
  radioData.forEach(d => errPoint(plot, sx(d[0]), sy(d[1]), sy(d[1] + d[2]), sy(d[1] - d[2]), 8, 2));
  const yl = mk("text", {x: 0, y: 0, transform: "translate(80,471) rotate(-90)", "text-anchor": "middle", "font-size": 62, fill: "#000"});
  
  
  yl.textContent = "Flux Density (Jy)";
}
// Panel 2
{
  const sx = linScale(54000, 58000, 2190, 2806);
  const sy = linScale(11, 16, 105, 785);
  const plot = panel({name: "magnitude-panel", x0: 1898, x1: 3106, y0: 50, y1: 893, sx, sy,
    xTicks: magXTicks, yTicks: magYTicks, yLabelX: 1862, xLabelY: 967, xTitleX: 2502, xTitleY: 1060});
  magData.forEach(d => errPoint(plot, sx(d[0]), sy(d[1]), sy(d[1] - d[2]), sy(d[1] + d[2]), 8, 4));
  const yl = mk("text", {x: 0, y: 0, transform: "translate(1747,471) rotate(-90)", "text-anchor": "middle", "font-size": 62, fill: "#000"});
  
  
  yl.textContent = "Magnitude";
}
// Panel 3
{
  const sx = linScale(54000, 59000, 305, 1381);
  const sy = linScale(0, 12, 1856, 1131);
  const plot = panel({name: "xray-panel", x0: 241, x1: 1423, y0: 1071, y1: 1916, sx, sy,
    xTicks: rateXTicks, yTicks: rateYTicks, yLabelX: 208, xLabelY: 1993, xTitleX: 832, xTitleY: 2085});
  rateData.forEach(d => errPoint(plot, sx(d[0]), sy(d[1]), sy(d[1] + d[2]), sy(d[1] - d[2]), 8, 2));
  const yl = mk("text", {x: 0, y: 0, transform: "translate(98,1491) rotate(-90)", "text-anchor": "middle", "font-size": 62, fill: "#000"});
  
  
  yl.textContent = "Count Rate (0.3-10 keV)(c/s)";
}
// Panel 4
{
  const sx = linScale(55000, 58000, 2049, 2916);
  const sy = linScale(0, 10, 1499, 1099);
  const plot = panel({name: "gamma-panel", x0: 1991, x1: 3118, y0: 1080, y1: 1918, sx, sy,
    xTicks: gammaXTicks, yTicks: gammaYTicks, yLabels: gammaYLabels, yLabelX: 1957, xLabelY: 1993, xTitleX: 2554, xTitleY: 2085});
  gammaMjd.forEach((m, i) => errPoint(plot, sx(m), sy(gammaVal[i]), sy(gammaVal[i] + gammaErr[i]), sy(gammaVal[i] - gammaErr[i]), 0, 1.3));
  gammaSpikeMjd.forEach((m, i) => errPoint(plot, sx(m), sy(gammaSpikeVal[i]), sy(12), sy(-12), 0, 1.3));
  gammaMjd.forEach((m, i) => errPoint(plot, sx(m), sy(gammaVal[i]), sy(gammaVal[i]), sy(gammaVal[i]), 12, 0));
  gammaHighMjd.forEach((m, i) => errPoint(plot, sx(m), sy(gammaHighVal[i]), sy(gammaHighVal[i] + gammaHighErr[i]), sy(gammaHighVal[i] - gammaHighErr[i]), 9, 2));
  const yl1 = mk("text", {x: 0, y: 0, transform: "translate(1772,1501) rotate(-90)", "text-anchor": "middle", "font-size": 62, fill: "#000"});
  
  
  yl1.innerHTML = 'Photons cm<tspan dy="-24" font-size="42">\u22122</tspan><tspan dy="24"> s</tspan><tspan dy="-24" font-size="42">\u22121</tspan>';
  const yl2 = mk("text", {x: 0, y: 0, transform: "translate(1838,1486) rotate(-90)", "text-anchor": "middle", "font-size": 62, fill: "#000"});
  
  
  yl2.innerHTML = '(100-300000 x 10<tspan dy="-24" font-size="42">\u22126</tspan><tspan dy="24"> MeV)</tspan>';
}
</script>
</body></html>
